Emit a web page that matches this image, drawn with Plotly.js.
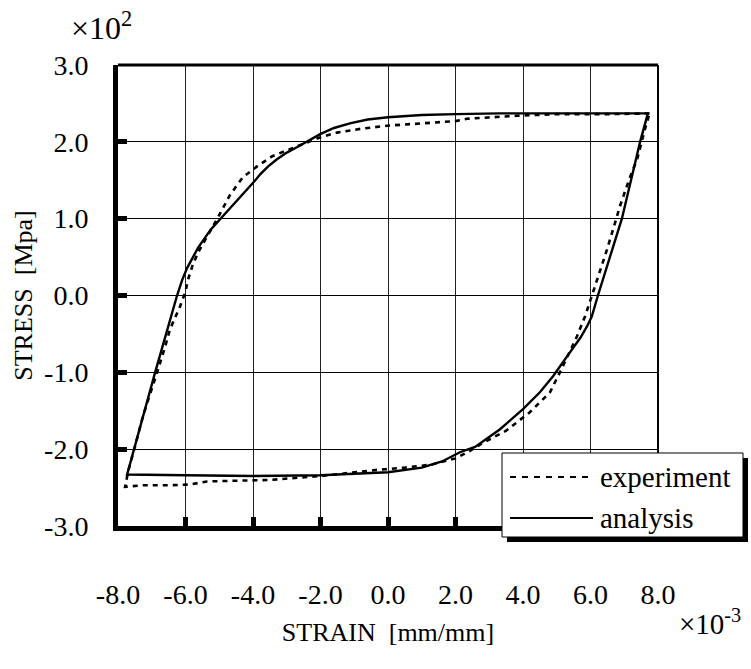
<!DOCTYPE html>
<html>
<head>
<meta charset="utf-8">
<script src="https://cdn.plot.ly/plotly-3.0.1.min.js"></script>
</head>
<body style="margin:0;background:#fff">
<div id="chart" style="width:751px;height:669px"></div>
<script>
// Strain (x10^-3 mm/mm) and stress (x10^2 MPa)
const expStrain = [7.75, 6.5, 5.0, 3.82, 2.34, 2.0, 1.0, -0.03, -0.8, -1.51, -2.0, -2.37, -2.7, -3.05, -3.44, -3.88, -4.3, -4.68, -5.07, -5.35, -5.63, -5.8, -5.93, -6.0, -6.16, -6.46, -6.6, -6.84, -7.26, -7.5, -7.7, -7.79, -7.26, -6.5, -5.87, -5.36, -4.5, -3.5, -2.0, -0.33, 0.5, 1.3, 2.0, 2.4, 2.8, 3.5, 4.2, 4.8, 5.16, 5.6, 5.84, 5.98, 6.19, 6.34, 6.49, 6.73, 6.87, 7.17, 7.38, 7.61, 7.75];
const expStress = [2.37, 2.36, 2.36, 2.34, 2.3, 2.27, 2.24, 2.21, 2.17, 2.12, 2.06, 2.0, 1.94, 1.88, 1.81, 1.68, 1.54, 1.31, 0.99, 0.78, 0.56, 0.38, 0.2, 0.05, -0.14, -0.44, -0.66, -1.0, -1.57, -1.97, -2.29, -2.49, -2.47, -2.47, -2.46, -2.42, -2.41, -2.4, -2.35, -2.27, -2.24, -2.2, -2.12, -2.03, -1.92, -1.76, -1.52, -1.26, -0.94, -0.53, -0.27, -0.08, 0.18, 0.4, 0.6, 0.95, 1.16, 1.54, 1.77, 2.16, 2.37];

const anaStrain = [7.70, 5.0, 3.3, 2.0, 1.0, 0.0, -0.6, -1.13, -1.6, -2.01, -2.4, -2.7, -3.0, -3.3, -3.55, -3.78, -3.97, -4.4, -4.83, -5.25, -5.63, -5.8, -5.95, -6.1, -6.25, -6.9, -7.73, -6.0, -4.0, -2.0, -1.0, 0.0, 1.0, 1.6, 2.13, 2.58, 3.32, 4.0, 4.5, 4.89, 5.39, 5.7, 5.9, 6.04, 6.22, 6.93, 7.47, 7.70];
const anaStress = [2.37, 2.37, 2.37, 2.36, 2.35, 2.32, 2.29, 2.24, 2.18, 2.1, 2.0, 1.93, 1.86, 1.77, 1.68, 1.58, 1.48, 1.27, 1.06, 0.86, 0.62, 0.49, 0.36, 0.2, 0.0, -1.0, -2.33, -2.34, -2.35, -2.34, -2.32, -2.3, -2.24, -2.16, -2.04, -1.97, -1.74, -1.48, -1.26, -1.05, -0.74, -0.55, -0.4, -0.27, 0.0, 1.0, 2.0, 2.37];

const xTickVals = [-8, -6, -4, -2, 0, 2, 4, 6, 8];
const xTickText = ["-8.0", "-6.0", "-4.0", "-2.0", "0.0", "2.0", "4.0", "6.0", "8.0"];
const yTickVals = [-3, -2, -1, 0, 1, 2, 3];
const yTickText = ["-3.0", "-2.0", "-1.0", "0.0", "1.0", "2.0", "3.0"];
const seriesNames = ["experiment", "analysis"];

const FONT = "Liberation Serif";
const f = (size) => ({ family: FONT, size: size, color: "black" });

const L = 118, R = 658, T = 65, B = 526;
const px = v => (v - L) / (R - L);
const py = v => (B - v) / (B - T);

const traces = [
  { x: expStrain, y: expStress, mode: "lines", name: seriesNames[0], showlegend: false, hoverinfo: "skip",
    line: { color: "#000", width: 2.6, dash: "5px,5px" } },
  { x: anaStrain, y: anaStress, mode: "lines", name: seriesNames[1], showlegend: false, hoverinfo: "skip",
    line: { color: "#000", width: 2.4 } }
];

const layout = {
  width: 751, height: 669,
  margin: { l: L, r: 751 - R, t: T, b: 669 - B },
  paper_bgcolor: "#fff", plot_bgcolor: "#fff",
  font: f(27),
  showlegend: false,
  xaxis: {
    range: [-8, 8], tickvals: xTickVals, ticktext: xTickText,
    showgrid: true, gridcolor: "#222", gridwidth: 1, zeroline: false,
    showline: true, linecolor: "#000", linewidth: 5,
    ticks: "inside", ticklen: 9, tickwidth: 5, tickcolor: "#000",
    ticklabelstandoff: 39,
    tickfont: f(28),
    title: { text: "STRAIN  [mm/mm]", font: f(26), standoff: 16 }
  },
  yaxis: {
    range: [-3, 3], tickvals: yTickVals, ticktext: yTickText,
    showgrid: true, gridcolor: "#000", gridwidth: 1.3, zeroline: false,
    showline: true, linecolor: "#000", linewidth: 5,
    ticks: "inside", ticklen: 9, tickwidth: 5, tickcolor: "#000",
    ticklabelstandoff: 19,
    tickfont: f(28),
    title: { text: "STRESS  [Mpa]", font: f(26), standoff: 5 }
  },
  shapes: [
    { type: "line", xref: "paper", yref: "paper", x0: 0, x1: 1, y0: 1, y1: 1, line: { color: "#000", width: 3 }, layer: "above" },
    { type: "line", xref: "paper", yref: "paper", x0: 1, x1: 1, y0: 0, y1: 1, line: { color: "#000", width: 2 }, layer: "above" },
    { type: "rect", xref: "paper", yref: "paper", x0: px(507), x1: px(748), y0: py(542), y1: py(458), fillcolor: "#000", line: { width: 0 }, layer: "above" },
    { type: "rect", xref: "paper", yref: "paper", x0: px(502), x1: px(743), y0: py(537), y1: py(453), fillcolor: "#fff", line: { color: "#000", width: 1 }, layer: "above" },
    { type: "line", xref: "paper", yref: "paper", x0: px(510), x1: px(593), y0: py(477), y1: py(477), line: { color: "#000", width: 2.2, dash: "6px,6px" }, layer: "above" },
    { type: "line", xref: "paper", yref: "paper", x0: px(510), x1: px(593), y0: py(518), y1: py(518), line: { color: "#000", width: 2.2 }, layer: "above" }
  ],
  annotations: [
    { text: seriesNames[0], xref: "paper", yref: "paper", x: px(598), y: py(477), xanchor: "left", yanchor: "middle", showarrow: false, font: f(29) },
    { text: seriesNames[1], xref: "paper", yref: "paper", x: px(598), y: py(518), xanchor: "left", yanchor: "middle", showarrow: false, font: f(29) },
    { text: "×10<sup>2</sup>", xref: "paper", yref: "paper", x: px(101), y: py(26), xanchor: "center", yanchor: "middle", showarrow: false, font: f(32) },
    { text: "×10<sup>-3</sup>", xref: "paper", yref: "paper", x: px(710), y: py(622), xanchor: "center", yanchor: "middle", showarrow: false, font: f(29) }
  ]
};

Plotly.newPlot("chart", traces, layout, { displayModeBar: false });
</script>
</body>
</html>
